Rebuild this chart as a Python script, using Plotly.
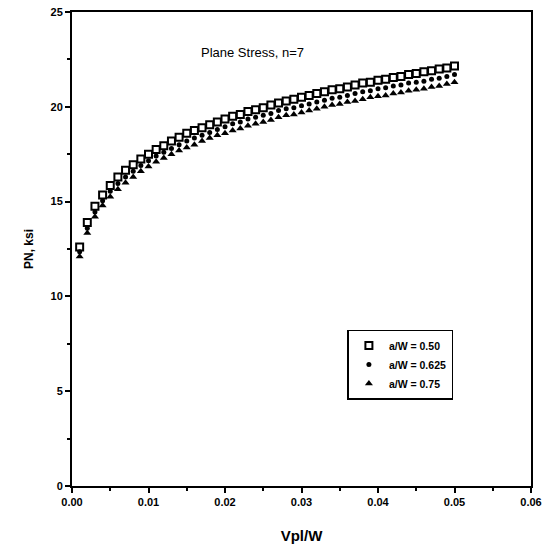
import plotly.graph_objects as go

x_vals = [round(0.001 * k, 3) for k in range(1, 51)]

pn_050 = [12.6, 13.9, 14.75, 15.35, 15.85, 16.3, 16.65, 16.95, 17.25, 17.5,
          17.75, 17.95, 18.2, 18.4, 18.6, 18.75, 18.9, 19.05, 19.2, 19.35,
          19.5, 19.6, 19.75, 19.85, 19.95, 20.1, 20.2, 20.3, 20.4, 20.5,
          20.6, 20.7, 20.8, 20.9, 20.95, 21.05, 21.15, 21.25, 21.3, 21.4,
          21.45, 21.55, 21.6, 21.7, 21.75, 21.85, 21.9, 22.0, 22.05, 22.15]

pn_0625 = [12.35, 13.6, 14.45, 15.05, 15.55, 15.95, 16.3, 16.6, 16.9, 17.15,
           17.4, 17.6, 17.8, 18.0, 18.2, 18.35, 18.5, 18.65, 18.8, 18.95,
           19.1, 19.2, 19.35, 19.45, 19.55, 19.65, 19.8, 19.9, 19.95, 20.05,
           20.15, 20.25, 20.35, 20.45, 20.5, 20.6, 20.7, 20.8, 20.85, 20.95,
           21.0, 21.1, 21.15, 21.25, 21.3, 21.35, 21.45, 21.5, 21.6, 21.7]

pn_075 = [12.1, 13.35, 14.2, 14.8, 15.25, 15.65, 16.0, 16.3, 16.6, 16.85,
          17.1, 17.3, 17.5, 17.7, 17.85, 18.0, 18.2, 18.35, 18.5, 18.6,
          18.75, 18.85, 19.0, 19.1, 19.2, 19.3, 19.45, 19.55, 19.6, 19.7,
          19.8, 19.9, 20.0, 20.1, 20.15, 20.25, 20.3, 20.4, 20.5, 20.55,
          20.6, 20.7, 20.75, 20.85, 20.9, 20.95, 21.05, 21.1, 21.2, 21.3]

x_ticks = [0.0, 0.01, 0.02, 0.03, 0.04, 0.05, 0.06]
x_tick_text = ["0.00", "0.01", "0.02", "0.03", "0.04", "0.05", "0.06"]
y_ticks = [0, 5, 10, 15, 20, 25]

FONT = "Liberation Sans"

fig = go.Figure()
fig.add_trace(go.Scatter(x=x_vals, y=pn_050, mode="markers", name="a/W = 0.50",
                         marker=dict(symbol="square-open", size=7, color="black",
                                     line=dict(width=2, color="black"))))
fig.add_trace(go.Scatter(x=x_vals, y=pn_0625, mode="markers", name="a/W = 0.625",
                         marker=dict(symbol="circle", size=5, color="black")))
fig.add_trace(go.Scatter(x=x_vals, y=pn_075, mode="markers", name="a/W = 0.75",
                         marker=dict(symbol="triangle-up", size=7, color="black")))

axis_common = dict(showgrid=False, zeroline=False, showline=True, linecolor="black",
                   linewidth=2, mirror=True, ticks="outside", ticklen=5, tickwidth=1.5,
                   tickcolor="black", automargin=False,
                   tickfont=dict(family=FONT, size=11, color="black", weight="bold"))

fig.update_layout(
    width=544, height=544,
    margin=dict(l=72, r=13, t=12, b=58),
    paper_bgcolor="white", plot_bgcolor="white",
    showlegend=True,
    legend=dict(x=0.6, y=0.33, xanchor="left", yanchor="top",
                bordercolor="black", borderwidth=1.5, bgcolor="white",
                font=dict(family=FONT, size=10.5, color="black", weight="bold"),
                itemwidth=30, tracegroupgap=0),
    xaxis=dict(range=[0, 0.06], tickvals=x_ticks, ticktext=x_tick_text,
               minor=dict(dtick=0.005, ticks="outside", ticklen=3, tickcolor="black"),
               title=dict(text="Vpl/W", font=dict(family=FONT, size=15, color="black", weight="bold"),
                          standoff=24),
               **axis_common),
    yaxis=dict(range=[0, 25], tickvals=y_ticks,
               minor=dict(dtick=2.5, ticks="outside", ticklen=3, tickcolor="black"),
               title=dict(text="PN, ksi", font=dict(family=FONT, size=12, color="black", weight="bold"),
                          standoff=14),
               **axis_common),
    annotations=[dict(text="Plane Stress, n=7", x=0.277, y=0.935, xref="paper", yref="paper",
                      showarrow=False,
                      font=dict(family=FONT, size=13, color="black"))],
)

fig.write_html("out.html")
